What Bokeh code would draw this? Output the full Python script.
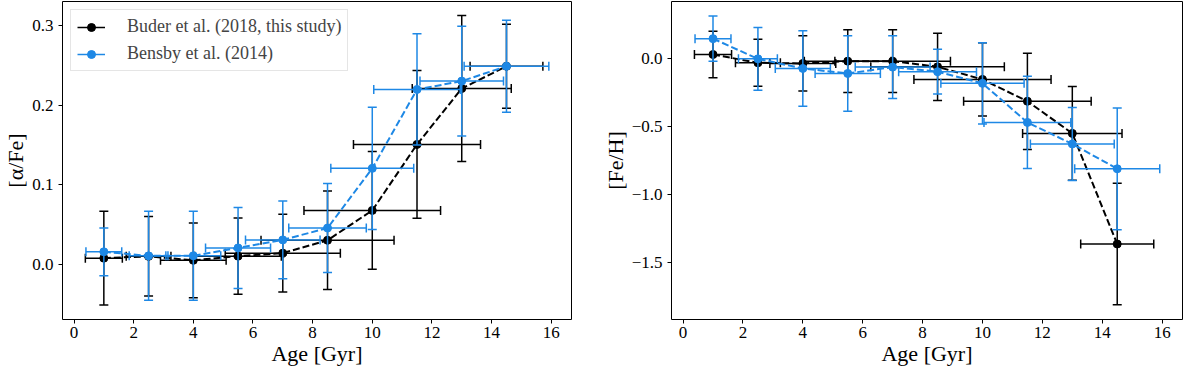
import numpy as np
from bokeh.plotting import figure
from bokeh.models import (Range1d, FixedTicker, CustomJSTickFormatter,
                          ColumnDataSource, Legend, LegendItem)
from bokeh.layouts import row
from bokeh.embed import file_html
from bokeh.resources import INLINE

# ---------------- data ----------------
age = [1.0, 2.5, 4.0, 5.5, 7.0, 8.5, 10.0, 11.5, 13.0, 14.5]
buder_age_err = [0.62, 0.75, 1.1, 1.45, 1.93, 2.23, 2.29, 2.13, 1.66, 1.22]
bensby_age_err = [0.6, 0.65, 0.92, 1.09, 1.25, 1.3, 1.39, 1.45, 1.4, 1.42]

buder_alpha = [0.0075, 0.0098, 0.0048, 0.010, 0.0138, 0.030, 0.0676, 0.1506, 0.221, 0.249]
buder_alpha_err = [0.059, 0.050, 0.047, 0.048, 0.049, 0.062, 0.074, 0.093, 0.092, 0.053]
bensby_alpha = [0.0155, 0.0104, 0.0105, 0.0204, 0.0305, 0.0454, 0.1205, 0.2198, 0.2303, 0.249]
bensby_alpha_err = [0.030, 0.056, 0.056, 0.051, 0.049, 0.056, 0.077, 0.070, 0.069, 0.058]

buder_feh = [0.032, -0.029, -0.034, -0.017, -0.017, -0.059, -0.152, -0.313, -0.55, -1.366]
buder_feh_err = [0.171, 0.173, 0.204, 0.232, 0.232, 0.248, 0.27, 0.355, 0.346, 0.449]
bensby_feh = [0.149, 0.0, -0.071, -0.108, -0.061, -0.095, -0.181, -0.469, -0.628, -0.811]
bensby_feh_err = [0.167, 0.232, 0.278, 0.278, 0.232, 0.165, 0.30, 0.34, 0.269, 0.449]

x_ticks = [0, 2, 4, 6, 8, 10, 12, 14, 16]
alpha_ticks = [0.0, 0.1, 0.2, 0.3]
feh_ticks = [-1.5, -1.0, -0.5, 0.0]

series_labels = ["Buder et al. (2018, this study)", "Bensby et al. (2014)"]

BLACK = "#000000"
BLUE = "#1e88e5"
FONT = "Liberation Serif"
H = 368


def add_series(p, x, xerr, y, yerr, color):
    x = np.array(x); xerr = np.array(xerr); y = np.array(y); yerr = np.array(yerr)
    src = ColumnDataSource(dict(x=x, y=y, xl=x - xerr, xu=x + xerr,
                                yl=y - yerr, yu=y + yerr))
    hr = p.segment(x0="xl", y0="y", x1="xu", y1="y", source=src,
                   line_color=color, line_width=1.5)
    p.segment(x0="x", y0="yl", x1="x", y1="yu", source=src,
              line_color=color, line_width=1.5)
    p.scatter(x="x", y="yl", source=src, marker="dash", size=9,
              line_color=color, line_width=1.5)
    p.scatter(x="x", y="yu", source=src, marker="dash", size=9,
              line_color=color, line_width=1.5)
    p.scatter(x="xl", y="y", source=src, marker="dash", size=9, angle=np.pi / 2,
              line_color=color, line_width=1.5)
    p.scatter(x="xu", y="y", source=src, marker="dash", size=9, angle=np.pi / 2,
              line_color=color, line_width=1.5)
    cr = p.scatter(x="x", y="y", source=src, marker="circle", size=8,
                   fill_color=color, line_color=color)
    p.line(x="x", y="y", source=src, line_color=color, line_width=2,
           line_dash="7 3")
    return hr, cr


def make_panel(yb, eb, yg, eg, yr, yticks, ylabel, width, lb, rb, legend):
    p = figure(width=width, height=H,
               x_range=Range1d(-0.386, 16.68), y_range=Range1d(*yr),
               output_backend="svg", toolbar_location=None,
               min_border_left=lb, min_border_right=rb,
               min_border_top=1, min_border_bottom=46)
    p.xgrid.visible = False
    p.ygrid.visible = False
    p.outline_line_color = "black"
    p.outline_line_width = 1
    p.outline_line_alpha = 1.0

    r1 = add_series(p, age, buder_age_err, yb, eb, BLACK)
    r2 = add_series(p, age, bensby_age_err, yg, eg, BLUE)

    p.xaxis.ticker = FixedTicker(ticks=x_ticks)
    p.xaxis.formatter = CustomJSTickFormatter(code="return tick.toFixed(0);")
    p.yaxis.ticker = FixedTicker(ticks=yticks)
    p.yaxis.formatter = CustomJSTickFormatter(
        code="return (tick < -1e-9 ? '\u2212' : '') + Math.abs(tick).toFixed(1);")
    for ax in (p.xaxis[0], p.yaxis[0]):
        ax.axis_line_color = None
        ax.major_tick_in = 0
        ax.major_tick_out = 4
        ax.major_tick_line_color = "black"
        ax.minor_tick_line_color = None
        ax.major_label_text_font = FONT
        ax.major_label_text_font_size = "17px"
        ax.major_label_text_color = "black"
        ax.axis_label_text_font = FONT
        ax.axis_label_text_font_size = "22px"
        ax.axis_label_text_font_style = "normal"
        ax.axis_label_text_color = "black"
    p.xaxis.axis_label = "Age [Gyr]"
    p.xaxis.major_label_standoff = 3
    p.xaxis.axis_label_standoff = 0
    p.yaxis.axis_label = ylabel
    p.yaxis.major_label_standoff = 5
    p.yaxis.axis_label_standoff = 1

    if legend:
        lg = Legend(items=[LegendItem(label=series_labels[0], renderers=list(r1)),
                           LegendItem(label=series_labels[1], renderers=list(r2))],
                    location="top_left", margin=8, padding=6, spacing=6,
                    glyph_width=28, glyph_height=20, label_height=20,
                    label_standoff=22,
                    label_text_font=FONT, label_text_font_size="18px",
                    border_line_color="#cccccc", border_line_width=1,
                    background_fill_color="white", background_fill_alpha=0.8)
        p.add_layout(lg)
    return p


p1 = make_panel(buder_alpha, buder_alpha_err, bensby_alpha, bensby_alpha_err,
                (-0.0697, 0.3305), alpha_ticks, "[α/Fe]", 592, 54, 21, True)
p2 = make_panel(buder_feh, buder_feh_err, bensby_feh, bensby_feh_err,
                (-1.923, 0.423), feh_ticks, "[Fe/H]", 592, 79, 2, False)

layout = row(p1, p2)
open("out.html", "w").write(file_html(layout, INLINE))
